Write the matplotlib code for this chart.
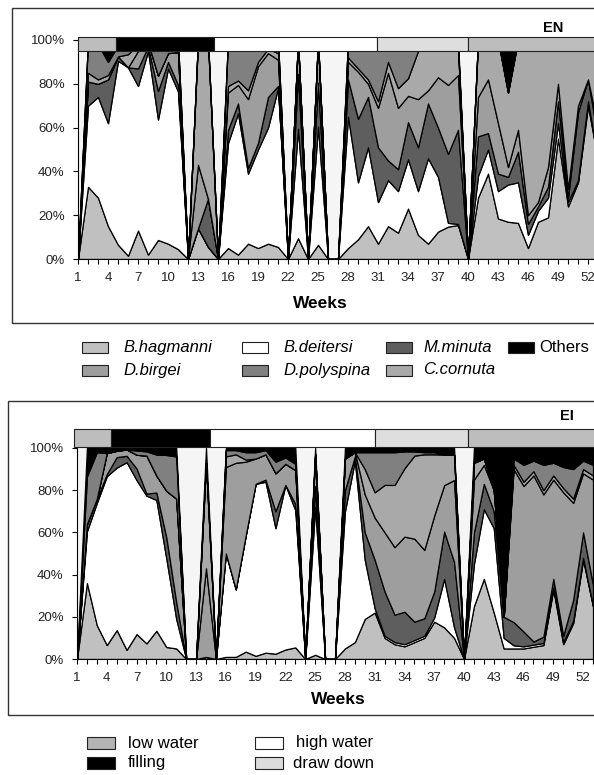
import numpy as np
import matplotlib
matplotlib.use("Agg")
import matplotlib.pyplot as plt
from matplotlib.patches import Rectangle

plt.rcParams["font.family"] = ["Liberation Sans", "DejaVu Sans"]

W, H = 594, 775
weeks = np.arange(1, 54)
tick_weeks = np.arange(1, 53, 3)

species = ["B.hagmanni", "B.deitersi", "M.minuta", "D.birgei", "C.cornuta", "D.polyspina", "Others"]
sp_colors = ["#c0c0c0", "#ffffff", "#5e5e5e", "#9e9e9e", "#a9a9a9", "#808080", "#000000"]

# EN station, relative abundance (%) per week
en_hagmanni = [0, 33, 28, 15, 6.5, 1.5, 13, 2, 8.7, 7, 4.5, 0, 14, 5.5, 0, 5, 2, 7, 5, 7, 5.5, 0, 9.5, 0, 6.5, 0, 0,
               5, 9, 15, 7, 15, 12, 23, 11, 7, 12.5, 14.8, 15.5, 0, 28, 39, 18.5, 17, 16.5, 5, 17, 19, 55, 24, 35, 70, 45]
en_deitersi = [0, 37, 46, 47, 84, 86, 66, 93, 55, 80, 72, 0, 0, 0, 0, 48, 64.5, 32, 45, 53, 72.5, 0, 50, 0, 54, 0, 0,
               60, 26, 36, 19, 21, 19, 22.5, 20, 39, 25, 1.7, 0.5, 0, 10, 11, 12.5, 17, 18.5, 6, 5, 9, 7, 2, 1, 2, 0]
en_minuta = [0, 11, 6, 20, 2, 0, 8, 2, 13, 3, 3, 0, 0, 22, 0, 6, 4.5, 2.5, 3, 14, 1, 0, 25, 0, 20, 0, 0,
             17, 29, 23, 25, 9, 10, 17, 20, 25, 22.5, 31.5, 43, 0, 18, 7.5, 8, 3.5, 14, 5, 2, 5, 10, 2, 31, 10, 10]
en_birgei = [0, 0, 0, 0, 0, 0, 8, 2, 7, 4, 15, 0, 29, 0, 0, 17, 8.5, 31.5, 35, 20, 12, 0, 15.5, 0, 19.5, 0, 0,
             8, 21.5, 6, 18, 40, 28, 12, 22, 6, 23, 31.5, 25, 0, 18, 24.5, 23, 4.5, 10, 4, 2, 9, 8, 4, 3, 0, 5]
en_cornuta = [0, 4, 2, 2, 0, 6, 3, 0, 0, 0, 0, 0, 57, 72.5, 0, 3, 2, 4, 2, 2, 3, 0, 0, 0, 0, 0, 0,
              2, 1.5, 2, 3, 5, 9, 8, 22, 23, 17, 20.5, 13, 0, 26, 18, 38, 34, 41, 80, 73, 57, 18, 65, 27, 15, 37]
en_polyspina = [0, 15, 16, 6, 5, 4, 2, 0, 16, 6, 5, 0, 0, 0, 0, 21, 18.5, 23, 10, 4, 6, 0, 0, 0, 0, 0, 0,
                8, 13, 18, 28, 10, 22, 17.5, 5, 0, 0, 0, 0, 0, 0, 0, 0, 0, 0, 0, 0, 0, 0, 0, 0, 0, 0]
en_others = [0, 0, 2, 10, 2.5, 2.5, 0, 1, 0.3, 0, 0.5, 0, 0, 0, 0, 0, 0, 0, 0, 0, 0, 0, 0, 0, 0, 0, 0,
             0, 0, 0, 0, 0, 0, 0, 0, 0, 0, 0, 3, 0, 0, 0, 0, 24, 0, 0, 1, 1, 2, 3, 3, 3, 3]

# EI station
ei_hagmanni = [0, 36, 16, 6.6, 13.7, 4.3, 11.8, 7.4, 13.4, 5.7, 5, 0, 0, 1, 0, 1, 1, 3.5, 1.5, 3, 2.5, 4.5, 5.5, 0, 2, 0, 0,
               5, 8, 19, 22, 10, 7, 6, 8, 10, 17.7, 15, 10, 0, 25, 38, 22, 5, 5, 5, 5.8, 6.6, 33, 7, 17, 47, 25]
ei_deitersi = [0, 24.5, 58, 80, 77, 89, 73, 70, 62, 42, 14, 0, 0, 0, 0, 49, 32, 55, 81.5, 81, 59.5, 78, 65, 0, 70, 0, 0,
               65, 86, 28, 2, 1, 1, 1, 1, 1, 2, 23, 5, 0, 20, 33, 40, 5, 1.5, 1, 1, 1, 1, 1, 1, 1, 0]
ei_minuta = [0, 3.5, 2, 1, 5, 3, 5.5, 1, 3.5, 10, 8, 0, 0, 0, 0, 0, 0, 0, 0, 1, 8, 0, 3, 0, 10, 0, 0,
             10, 2, 13, 23, 21, 13, 15.4, 8.7, 8.3, 12.3, 22.4, 31, 0, 15, 12, 8, 10, 11, 7, 1.5, 3, 4, 3, 10, 12, 10]
ei_birgei = [0, 0, 0, 10, 3, 3, 6.5, 18, 8, 22, 49, 0, 0, 42, 0, 41, 60, 35, 12, 12, 18, 10, 16, 0, 15, 0, 0,
             15, 2, 18, 20, 28, 32, 35.6, 39.3, 32.4, 36, 22, 38.8, 0, 25, 9, 10, 0, 72.5, 69, 78.7, 67.4, 47, 68, 46, 28, 50]
ei_cornuta = [0, 0, 0, 0, 0, 0, 0, 0, 0, 0, 0, 0, 0, 50, 0, 5, 4, 1, 0, 0, 0, 0, 0, 0, 0, 0, 0,
              0, 0, 12, 12, 22.5, 29.5, 32.4, 39.4, 45.3, 29, 14.5, 12, 0, 8, 3, 0, 0, 2, 2, 2, 2, 2, 2, 2, 2, 2]
ei_polyspina = [0, 22.5, 22, 0, 0, 0, 2, 2, 10, 17, 20, 0, 0, 0, 0, 3, 2, 3.5, 3, 2, 5.5, 3, 3, 0, 0, 0, 0,
                0, 0, 8, 19, 15.5, 15.5, 8, 2, 1, 1, 0, 0, 0, 0, 0, 0, 0, 3, 8, 5, 12, 6, 10, 14, 4, 5]
ei_others = [0, 13.5, 2, 2.4, 1.3, 0.7, 1.2, 1.6, 3.1, 3.3, 4, 0, 0, 7, 0, 1, 1, 2, 2, 1, 6.5, 4.5, 7.5, 0, 3, 0, 0,
             5, 2, 2, 2, 2, 2, 1.6, 1.6, 2, 2, 3.1, 3.2, 0, 7, 5, 20, 80, 5, 8, 6, 8, 7, 9, 10, 6, 8]

# water level phases (band above each chart)
phase_names = ["low water", "filling", "high water", "draw down", "low water"]
phase_colors = {"low water": "#bdbdbd", "filling": "#000000", "high water": "#ffffff", "draw down": "#dedede"}
en_phase_start = [1.0, 4.8, 14.6, 30.9, 40.0]
en_phase_end = [4.8, 14.6, 30.9, 40.0, 55.0]
ei_phase_start = [0.7, 4.4, 14.4, 31.0, 40.4]
ei_phase_end = [4.4, 14.4, 31.0, 40.4, 55.0]


def fx(px):
    return px / W


def fy(py):
    return 1 - py / H


def panel(ax, series, p_start, p_end, band_lo, band_hi, name, name_xy):
    vals = np.array(series, dtype=float)
    tot = vals.sum(axis=0)
    pct = np.divide(vals * 100, tot, out=np.zeros_like(vals), where=tot > 0)
    ax.set_facecolor("#f5f5f5")
    ax.stackplot(weeks, pct, colors=sp_colors, edgecolor="black", linewidth=0.9)
    ax.set_xlim(1, 53)
    ax.set_ylim(0, 100)
    bars = ax.broken_barh([(s, e - s) for s, e in zip(p_start, p_end)], (band_lo, band_hi - band_lo),
                          facecolors=[phase_colors[p] for p in phase_names], edgecolor="#222222", linewidth=0.8)
    bars.set_clip_on(False)
    bars.set_zorder(5)
    for s in ["top", "right"]:
        ax.spines[s].set_visible(False)
    for s in ["left", "bottom"]:
        ax.spines[s].set_linewidth(0.8)
    ax.set_xticks(tick_weeks)
    ax.set_xticks(weeks, minor=True)
    ax.set_xticklabels([str(w) for w in tick_weeks])
    ax.set_yticks(range(0, 101, 20))
    ax.set_yticklabels([f"{v}%" for v in range(0, 101, 20)])
    ax.tick_params(axis="both", which="both", direction="out", length=3.5, width=0.8,
                   labelsize=9.5, colors="black", labelcolor="#222222")
    ax.tick_params(axis="x", which="both", pad=6)
    ax.tick_params(axis="y", pad=6)
    fig.text(fx(name_xy[0]), fy(name_xy[1]), name, ha="center", va="center",
             fontsize=10.5, fontweight="bold")


fig = plt.figure(figsize=(W / 100, H / 100), dpi=100)

# outer frames
fig.patches.append(Rectangle((fx(12), fy(323)), fx(600 - 12), fy(8) - fy(323), transform=fig.transFigure,
                             fill=False, edgecolor="#333333", linewidth=1.0))
fig.patches.append(Rectangle((fx(8), fy(715)), fx(600 - 8), fy(401) - fy(715), transform=fig.transFigure,
                             fill=False, edgecolor="#333333", linewidth=1.0))

ax1 = fig.add_axes([fx(78), fy(259), fx(520), (259 - 40) / H])
panel(ax1, [en_hagmanni, en_deitersi, en_minuta, en_birgei, en_cornuta, en_polyspina, en_others],
      en_phase_start, en_phase_end, 95, 101.4, "EN", (553, 28))
fig.text(fx(320), fy(303), "Weeks", ha="center", va="center", fontsize=12.5, fontweight="bold")

ax2 = fig.add_axes([fx(77), fy(659), fx(516), (659 - 448) / H])
panel(ax2, [ei_hagmanni, ei_deitersi, ei_minuta, ei_birgei, ei_cornuta, ei_polyspina, ei_others],
      ei_phase_start, ei_phase_end, 100.5, 109, "EI", (567, 416))
fig.text(fx(338), fy(699), "Weeks", ha="center", va="center", fontsize=12.5, fontweight="bold")


def legend_item(x_box, y, w, h, color, x_text, label, italic):
    fig.patches.append(Rectangle((fx(x_box), fy(y + h / 2)), fx(w), h / H, transform=fig.transFigure,
                                 facecolor=color, edgecolor="#222222", linewidth=0.8))
    fig.text(fx(x_text), fy(y), label, ha="left", va="center", fontsize=12,
             style="italic" if italic else "normal")


# species legend (4 columns, row-wise)
sp_box_x = [82, 242, 386, 508, 82, 242, 386]
sp_text_x = [123, 283, 423, 539, 123, 283, 423]
sp_row_y = [348, 348, 348, 348, 370, 370, 370]
legend_order = ["B.hagmanni", "B.deitersi", "M.minuta", "Others", "D.birgei", "D.polyspina", "C.cornuta"]
for i, lab in enumerate(legend_order):
    c = sp_colors[species.index(lab)]
    legend_item(sp_box_x[i], sp_row_y[i], 26, 11, c, sp_text_x[i], lab, lab != "Others")

# phase legend
ph_labels = ["low water", "high water", "filling", "draw down"]
ph_box_x = [87, 255, 87, 255]
ph_text_x = [128, 296, 128, 293]
ph_row_y = [743, 743, 763, 763]
ph_legend_colors = {"low water": "#b4b4b4", "filling": "#000000", "high water": "#ffffff", "draw down": "#dcdcdc"}
for lab, bx, tx, ry in zip(ph_labels, ph_box_x, ph_text_x, ph_row_y):
    legend_item(bx, ry, 28, 12, ph_legend_colors[lab], tx, lab, False)

fig.savefig("out.png", dpi=100)
